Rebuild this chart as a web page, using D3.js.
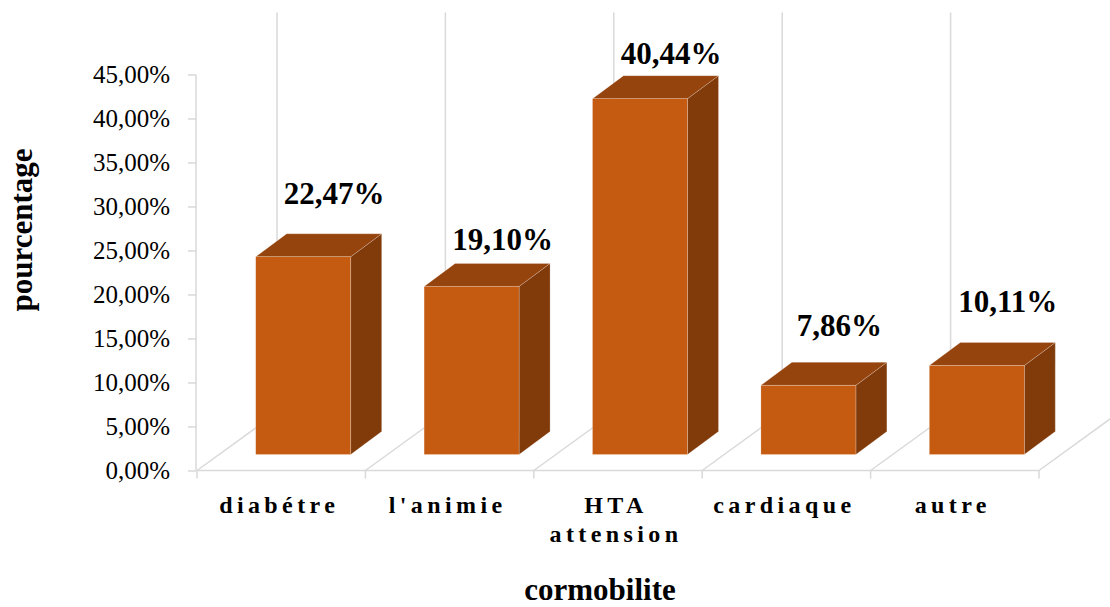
<!DOCTYPE html>
<html>
<head>
<meta charset="utf-8">
<script src="https://cdn.jsdelivr.net/npm/d3@7"></script>
<style>
  html, body { margin: 0; padding: 0; background: #fff; }
  svg { display: block; }
  text { font-family: "Liberation Serif", "Times New Roman", serif; fill: #000; }
</style>
</head>
<body>
<svg id="chart" width="1110" height="607"></svg>
<script>
// Comorbidity shares (fractions of patients)
const categories = ["diabétre", "l'animie", "HTA attension", "cardiaque", "autre"];
const categoryLines = [["diabétre"], ["l'animie"], ["HTA", "attension"], ["cardiaque"], ["autre"]];
const values = [0.2247, 0.1910, 0.4044, 0.0786, 0.1011];
const yTicks = [0, 0.05, 0.10, 0.15, 0.20, 0.25, 0.30, 0.35, 0.40, 0.45];
// vertical nudges of the value labels above each bar top
const labelNudge = [-30, -13, -12, -26, -31];

const fr = d3.formatLocale({ decimal: ",", thousands: " ", grouping: [3], currency: ["", " €"] });
const pct = fr.format(".2%");

const svg = d3.select("#chart");

// front floor edge and vertical axis plane
const x = d3.scaleBand().domain(categories).range([197, 1039]).paddingInner(0.436).paddingOuter(0.218);
const y = d3.scaleLinear().domain([0, 0.45]).range([470.5, 74.5]);

// oblique depth: full floor depth and bar placement within it
const floorDx = 80, floorDy = -58;
const barOffDx = 22, barOffDy = -16;
const barDx = 31, barDy = -23;

const gridColor = "#D9D9D9";
const grid = svg.append("g").attr("stroke", gridColor).attr("stroke-width", 1.5).attr("fill", "none");

const boundaries = d3.range(categories.length + 1).map(i => x.range()[0] + i * x.step());

// back wall vertical gridlines
boundaries.forEach(bx => {
  grid.append("line")
    .attr("x1", bx + floorDx).attr("x2", bx + floorDx)
    .attr("y1", y(0) + floorDy).attr("y2", y(0.45) + floorDy - 4);
});
// floor diagonals
boundaries.forEach(bx => {
  grid.append("line")
    .attr("x1", bx).attr("y1", y(0))
    .attr("x2", bx + floorDx).attr("y2", y(0) + floorDy);
});
// front floor edge
grid.append("line")
  .attr("x1", boundaries[0]).attr("x2", boundaries[boundaries.length - 1])
  .attr("y1", y(0)).attr("y2", y(0));
// category tick marks
boundaries.forEach(bx => {
  grid.append("line").attr("x1", bx).attr("x2", bx).attr("y1", y(0)).attr("y2", y(0) + 8);
});

// value axis
const yAxis = d3.axisLeft(y).tickValues(yTicks).tickFormat(pct).tickSize(8).tickPadding(18);
const ya = svg.append("g").attr("transform", `translate(${boundaries[0] - 1},0)`).call(yAxis);
ya.select(".domain").attr("stroke", gridColor).attr("stroke-width", 1.5).attr("d", `M0,${y(0)}V${y(0.45)}`);
ya.selectAll(".tick line").attr("stroke", gridColor).attr("stroke-width", 1.5);
ya.selectAll(".tick text")
  .attr("font-family", "Liberation Serif, Times New Roman, serif")
  .attr("font-size", 25).attr("fill", "#000");

// 3D bars
const frontCol = "#C55A11", topCol = "#96440E", sideCol = "#813B0B";
const bars = svg.append("g");
categories.forEach((c, i) => {
  const v = values[i];
  const x0 = x(c) + barOffDx, x1 = x0 + x.bandwidth();
  const yb = y(0) + barOffDy, yt = y(v) + barOffDy;
  const g = bars.append("g").attr("stroke", "rgba(255,255,255,0.35)").attr("stroke-width", 0.6);
  g.append("path").attr("fill", sideCol)
    .attr("d", `M${x1},${yb}L${x1 + barDx},${yb + barDy}L${x1 + barDx},${yt + barDy}L${x1},${yt}Z`);
  g.append("path").attr("fill", topCol)
    .attr("d", `M${x0},${yt}L${x1},${yt}L${x1 + barDx},${yt + barDy}L${x0 + barDx},${yt + barDy}Z`);
  g.append("rect").attr("fill", frontCol)
    .attr("x", x0).attr("y", yt).attr("width", x1 - x0).attr("height", yb - yt);

  // value label centred over the bar top
  svg.append("text")
    .attr("x", (x0 + x1) / 2 + barDx)
    .attr("y", yt + barDy + labelNudge[i])
    .attr("text-anchor", "middle")
    .attr("font-weight", "bold").attr("font-size", 31)
    .text(pct(v));
});

// category labels
categories.forEach((c, i) => {
  const cx = boundaries[i] + x.step() / 2;
  const t = svg.append("text")
    .attr("text-anchor", "middle")
    .attr("font-weight", "bold").attr("font-size", 24)
    .attr("letter-spacing", 4.4);
  categoryLines[i].forEach((ln, j) => {
    t.append("tspan").attr("x", cx - 2).attr("y", 513 + j * 29).text(ln);
  });
});

// axis titles
svg.append("text")
  .attr("x", 600).attr("y", 600)
  .attr("text-anchor", "middle").attr("font-weight", "bold").attr("font-size", 31)
  .text("cormobilite");
svg.append("text")
  .attr("transform", "translate(32,230) rotate(-90)")
  .attr("text-anchor", "middle").attr("font-weight", "bold").attr("font-size", 31)
  .text("pourcentage");
</script>
</body>
</html>
